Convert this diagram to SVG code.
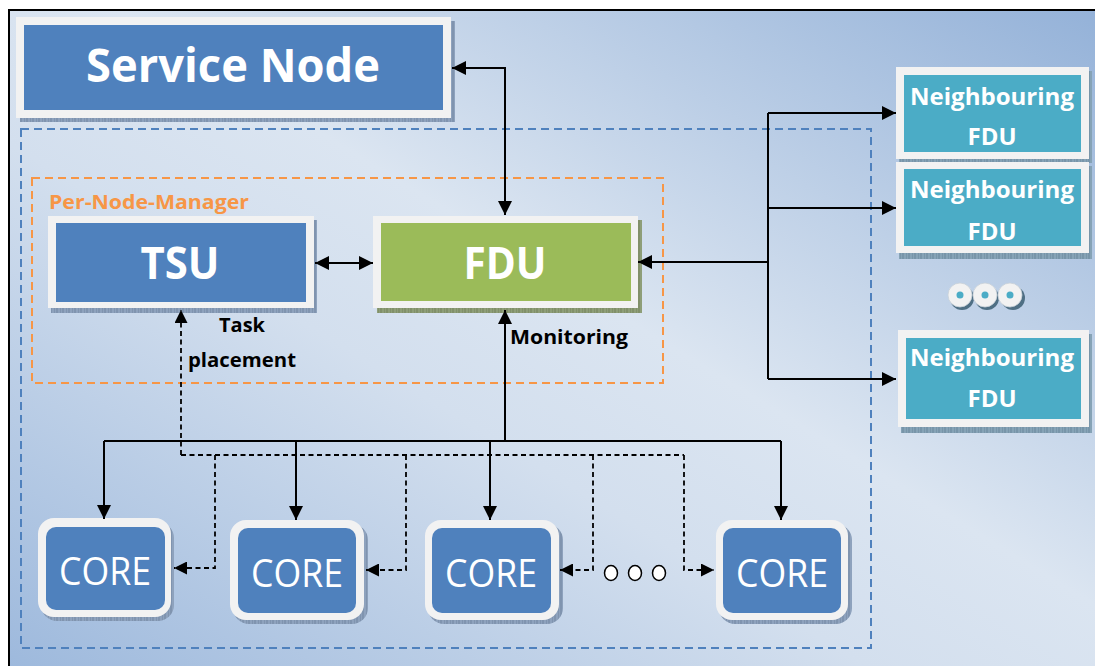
<svg xmlns="http://www.w3.org/2000/svg" width="1095" height="666" viewBox="0 0 1095 666">
<defs>
  <linearGradient id="bg" x1="1" y1="0" x2="0" y2="1">
    <stop offset="0" stop-color="#93b1d8"/>
    <stop offset="0.45" stop-color="#dbe5f1"/>
    <stop offset="0.6" stop-color="#d3dfee"/>
    <stop offset="1" stop-color="#9cb8dc"/>
  </linearGradient>
  <pattern id="hatchB" width="6" height="6" patternUnits="userSpaceOnUse">
    <rect width="6" height="6" fill="#8ea2bd"/>
    <path d="M0,0V6M3,0V6" stroke="#5d718d" stroke-width="0.6"/>
  </pattern>
  <pattern id="hatchG" width="6" height="6" patternUnits="userSpaceOnUse">
    <rect width="6" height="6" fill="#8e9e78"/>
    <path d="M0,0V6M3,0V6" stroke="#5f6e4a" stroke-width="0.6"/>
  </pattern>
  <pattern id="hatchT" width="6" height="6" patternUnits="userSpaceOnUse">
    <rect width="6" height="6" fill="#86a3b6"/>
    <path d="M0,0V6M3,0V6" stroke="#56758a" stroke-width="0.6"/>
  </pattern>
  <marker id="ah" viewBox="0 0 14 14" refX="14" refY="7" markerWidth="14" markerHeight="14" markerUnits="userSpaceOnUse" orient="auto-start-reverse">
    <path d="M0,0L14,7L0,14Z" fill="#000"/>
  </marker>
  <marker id="ahs" viewBox="0 0 13 13" refX="13" refY="6.5" markerWidth="13" markerHeight="13" markerUnits="userSpaceOnUse" orient="auto-start-reverse">
    <path d="M0,0L13,6.5L0,13Z" fill="#000"/>
  </marker>
</defs>
<style>
  .frame{fill:#f2f2f2}
  .blue{fill:#4f81bd}
  .green{fill:#9bbb59}
  .teal{fill:#4bacc6}
  .wt{fill:#fff;font-family:"Open Sans","Liberation Sans",sans-serif;font-weight:bold;text-anchor:middle}
  .core{fill:#fff;font-family:"Open Sans","Liberation Sans",sans-serif;font-size:38px;text-anchor:middle}
  .lbl{fill:#000;font-family:"Open Sans","Liberation Sans",sans-serif;font-weight:bold;font-size:19px}
  .solid{fill:none;stroke:#000;stroke-width:2}
  .dash{fill:none;stroke:#000;stroke-width:1.8;stroke-dasharray:5,3.5}
</style>
<rect width="1095" height="666" fill="#fff"/>
<rect x="9" y="10" width="1100" height="670" fill="url(#bg)" stroke="#000" stroke-width="2"/>

<rect x="21" y="129" width="850" height="519" fill="none" stroke="#4f81bd" stroke-width="2" stroke-dasharray="8,5"/>
<rect x="32" y="178" width="631" height="205" fill="none" stroke="#f79646" stroke-width="2" stroke-dasharray="8,5"/>
<text x="49" y="209" style="fill:#f79646;font-family:'Open Sans','Liberation Sans',sans-serif;font-weight:bold;font-size:19px" textLength="200" lengthAdjust="spacingAndGlyphs">Per-Node-Manager</text>

<g id="service-node">
  <rect x="20" y="21" width="435" height="101" fill="url(#hatchB)"/>
  <rect class="frame" x="16" y="17" width="435" height="101"/>
  <rect class="blue" x="24" y="25" width="419" height="85"/>
  <text class="wt" x="233" y="82" font-size="46" textLength="294" lengthAdjust="spacingAndGlyphs">Service Node</text>
</g>

<g id="tsu">
  <rect x="51" y="220" width="266" height="93" fill="url(#hatchB)"/>
  <rect class="frame" x="48" y="216" width="266" height="92"/>
  <rect class="blue" x="56" y="223" width="250" height="79"/>
  <text class="wt" x="180" y="279" font-size="45" textLength="79" lengthAdjust="spacingAndGlyphs">TSU</text>
</g>

<g id="fdu">
  <rect x="377" y="220" width="265" height="93" fill="url(#hatchG)"/>
  <rect class="frame" x="373" y="216" width="265" height="92"/>
  <rect class="green" x="381" y="223" width="250" height="78"/>
  <text class="wt" x="505" y="279" font-size="45" textLength="83" lengthAdjust="spacingAndGlyphs">FDU</text>
</g>

<g id="neighbour-1">
  <rect x="899" y="71" width="193" height="92" fill="url(#hatchT)"/>
  <rect class="frame" x="896" y="67" width="193" height="92"/>
  <rect class="teal" x="904" y="75" width="177" height="77"/>
  <text class="wt" x="992" y="105" font-size="24" textLength="164" lengthAdjust="spacingAndGlyphs">Neighbouring</text>
  <text class="wt" x="992" y="145" font-size="24" textLength="49" lengthAdjust="spacingAndGlyphs">FDU</text>
</g>
<g id="neighbour-2">
  <rect x="899" y="166" width="193" height="93" fill="url(#hatchT)"/>
  <rect class="frame" x="896" y="162" width="193" height="91"/>
  <rect class="teal" x="904" y="169" width="177" height="77"/>
  <text class="wt" x="992" y="198" font-size="24" textLength="164" lengthAdjust="spacingAndGlyphs">Neighbouring</text>
  <text class="wt" x="992" y="240" font-size="24" textLength="49" lengthAdjust="spacingAndGlyphs">FDU</text>
</g>
<g id="neighbour-dots">
  <circle cx="962" cy="298" r="12" fill="#4f6f84"/>
  <circle cx="987" cy="298" r="12" fill="#4f6f84"/>
  <circle cx="1013" cy="298" r="12" fill="#4f6f84"/>
  <circle cx="960" cy="295" r="12" fill="#f2f2f2" stroke="#c8d0d8" stroke-width="0.8"/>
  <circle cx="985" cy="295" r="12" fill="#f2f2f2" stroke="#c8d0d8" stroke-width="0.8"/>
  <circle cx="1010" cy="295" r="12" fill="#f2f2f2" stroke="#c8d0d8" stroke-width="0.8"/>
  <circle cx="960" cy="295" r="3.5" fill="#4bacc6"/>
  <circle cx="985" cy="295" r="3.5" fill="#4bacc6"/>
  <circle cx="1010" cy="295" r="3.5" fill="#4bacc6"/>
</g>
<g id="neighbour-3">
  <rect x="901" y="334" width="191" height="99" fill="url(#hatchT)"/>
  <rect class="frame" x="898" y="330" width="191" height="97"/>
  <rect class="teal" x="906" y="338" width="175" height="81"/>
  <text class="wt" x="992" y="366" font-size="24" textLength="164" lengthAdjust="spacingAndGlyphs">Neighbouring</text>
  <text class="wt" x="992" y="407" font-size="24" textLength="49" lengthAdjust="spacingAndGlyphs">FDU</text>
</g>

<g id="core-1">
  <rect x="41" y="522" width="133" height="99" rx="16" fill="url(#hatchB)"/>
  <rect class="frame" x="38" y="518" width="133" height="99" rx="16"/>
  <rect class="blue" x="46" y="527" width="119" height="83" rx="10"/>
  <text class="core" x="105" y="585" textLength="92" lengthAdjust="spacingAndGlyphs">CORE</text>
</g>
<g id="core-2">
  <rect x="233" y="524" width="135" height="100" rx="16" fill="url(#hatchB)"/>
  <rect class="frame" x="230" y="520" width="134" height="100" rx="16"/>
  <rect class="blue" x="238" y="528" width="118" height="85" rx="10"/>
  <text class="core" x="297" y="587" textLength="92" lengthAdjust="spacingAndGlyphs">CORE</text>
</g>
<g id="core-3">
  <rect x="428" y="524" width="135" height="100" rx="16" fill="url(#hatchB)"/>
  <rect class="frame" x="425" y="520" width="134" height="100" rx="16"/>
  <rect class="blue" x="432" y="528" width="119" height="85" rx="10"/>
  <text class="core" x="491" y="587" textLength="92" lengthAdjust="spacingAndGlyphs">CORE</text>
</g>
<g id="core-4">
  <rect x="719" y="524" width="133" height="100" rx="16" fill="url(#hatchB)"/>
  <rect class="frame" x="716" y="520" width="132" height="100" rx="16"/>
  <rect class="blue" x="723" y="528" width="118" height="85" rx="10"/>
  <text class="core" x="782" y="587" textLength="92" lengthAdjust="spacingAndGlyphs">CORE</text>
</g>

<g id="connectors">
  <path class="solid" d="M505,215V68H452" marker-start="url(#ah)" marker-end="url(#ah)"/>
  <path class="solid" d="M315,263H373" marker-start="url(#ah)" marker-end="url(#ah)"/>
  <path class="solid" d="M768,262H638" stroke-width="2.5" marker-end="url(#ah)"/>
  <path class="solid" d="M768,113V379"/>
  <path class="solid" d="M768,113H896" marker-end="url(#ah)"/>
  <path class="solid" d="M768,208H896" marker-end="url(#ah)"/>
  <path class="solid" d="M768,379H896" marker-end="url(#ah)"/>
  <path class="solid" d="M505,441V310" marker-end="url(#ah)"/>
  <path class="solid" d="M104,441H781"/>
  <path class="solid" d="M104,441V519" marker-end="url(#ah)"/>
  <path class="solid" d="M296,441V520" marker-end="url(#ah)"/>
  <path class="solid" d="M490,441V520" marker-end="url(#ah)"/>
  <path class="solid" d="M781,441V520" marker-end="url(#ah)"/>
  <path class="dash" d="M181,455V310" marker-end="url(#ahs)"/>
  <path class="dash" d="M181,455H684"/>
  <path class="dash" d="M215,455V568H174" marker-end="url(#ahs)"/>
  <path class="dash" d="M406,455V570H366" marker-end="url(#ahs)"/>
  <path class="dash" d="M593,455V570H560" marker-end="url(#ahs)"/>
  <path class="dash" d="M684,455V570H714" marker-end="url(#ahs)"/>
  <ellipse cx="611" cy="573" rx="6.5" ry="7.5" fill="#fff" stroke="#000" stroke-width="1.5"/>
  <ellipse cx="635" cy="573" rx="6.5" ry="7.5" fill="#fff" stroke="#000" stroke-width="1.5"/>
  <ellipse cx="659" cy="573" rx="6.5" ry="7.5" fill="#fff" stroke="#000" stroke-width="1.5"/>
</g>

<text class="lbl" x="219" y="332" textLength="46" lengthAdjust="spacingAndGlyphs">Task</text>
<text class="lbl" x="188" y="367" textLength="108" lengthAdjust="spacingAndGlyphs">placement</text>
<text class="lbl" x="510" y="344" textLength="118" lengthAdjust="spacingAndGlyphs">Monitoring</text>
</svg>
